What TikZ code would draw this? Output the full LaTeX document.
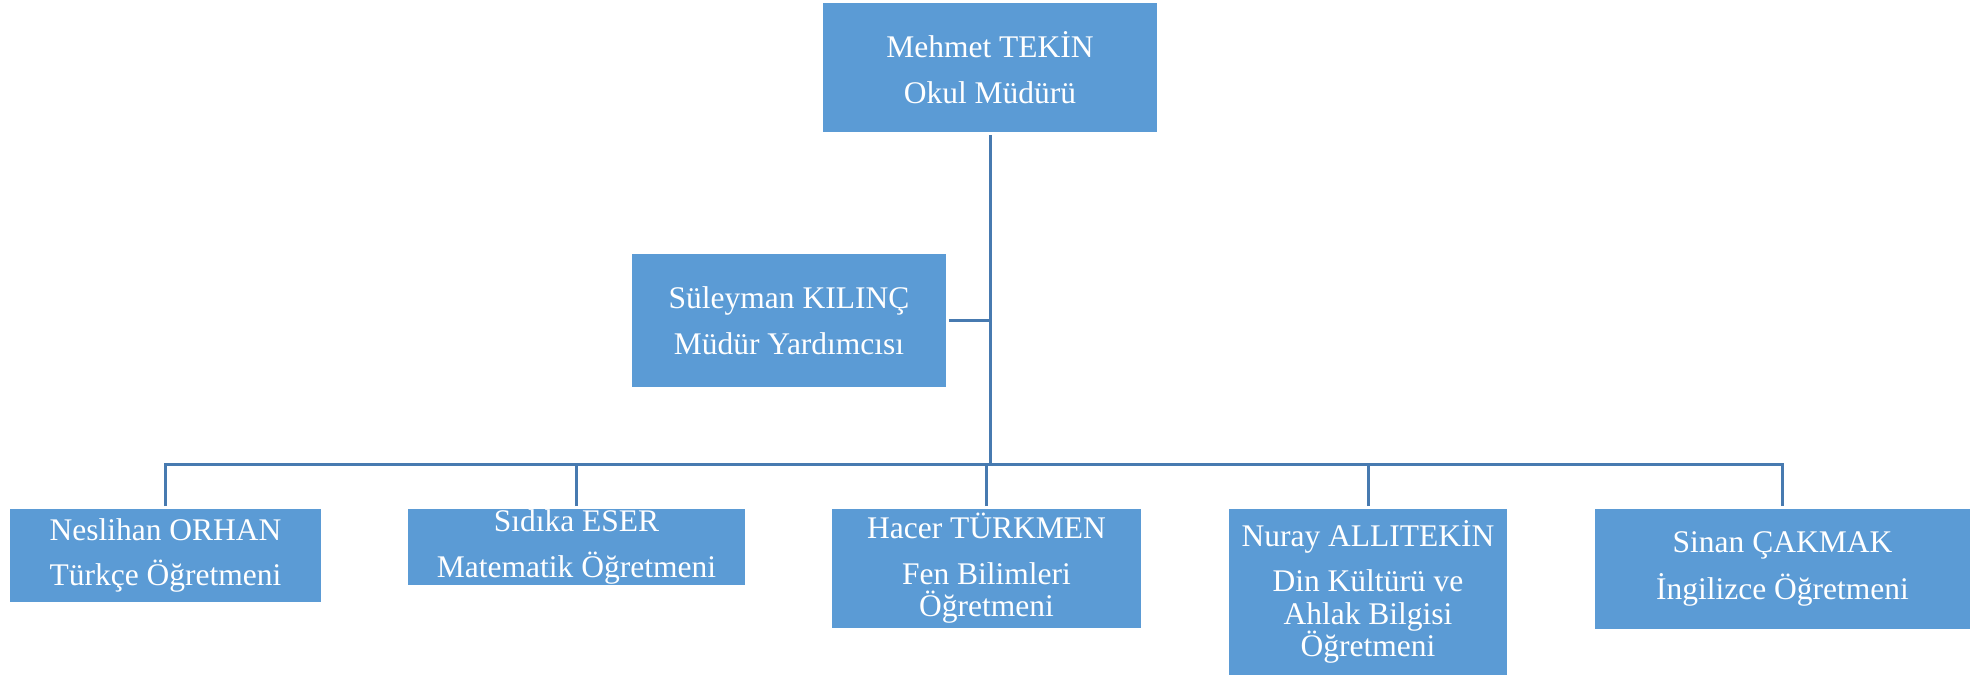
\documentclass[tikz,border=0pt]{standalone}
\usepackage{fontspec}
\setmainfont{Liberation Serif}
\definecolor{boxblue}{HTML}{5B9BD5}
\definecolor{lineblue}{HTML}{477AB0}
\begin{document}
\begin{tikzpicture}[x=1pt,y=-1pt,
  box/.style={fill=boxblue, text=white, align=center, inner sep=0pt, outer sep=3pt,
    font=\fontsize{31.5}{32.5}\selectfont},
  conn/.style={draw=lineblue, line width=3pt}]
\useasboundingbox (0,0) rectangle (1975,676);
\node[box, minimum width=334pt, minimum height=129pt] (top) at (990,67.5) {Mehmet TEKİN\\[13pt]Okul Müdürü};
\node[box, minimum width=314pt, minimum height=133pt] (sul) at (789,320.5) {Süleyman KILINÇ\\[13pt]Müdür Yardımcısı};
\node[box, minimum width=311pt, minimum height=93pt] (nes) at (165.5,555.5) {Neslihan ORHAN\\[13pt]Türkçe Öğretmeni};
\node[box, minimum width=337pt, minimum height=76pt] (sid) at (576.5,547) {Sıdıka ESER\\[13pt]Matematik Öğretmeni};
\node[box, minimum width=309pt, minimum height=119pt] (hac) at (986.5,568.5) {Hacer TÜRKMEN\\[13pt]Fen Bilimleri\\Öğretmeni};
\node[box, minimum width=278pt, minimum height=166pt] (nur) at (1368,592) {Nuray ALLITEKİN\\[13pt]Din Kültürü ve\\Ahlak Bilgisi\\Öğretmeni};
\node[box, minimum width=375pt, minimum height=120pt] (sin) at (1782.5,569) {Sinan ÇAKMAK\\[13pt]İngilizce Öğretmeni};
\coordinate (bus) at (990,464.5);
\draw[conn] (top.south) -- (top.south |- bus);
\draw[conn] (sul.east) -- (sul.east -| top.south);
\draw[conn] (nes.north) -- (nes.north |- bus) -- (sin.north |- bus) -- (sin.north);
\draw[conn] (sid.north) -- (sid.north |- bus);
\draw[conn] (hac.north) -- (hac.north |- bus);
\draw[conn] (nur.north) -- (nur.north |- bus);
\end{tikzpicture}
\end{document}
